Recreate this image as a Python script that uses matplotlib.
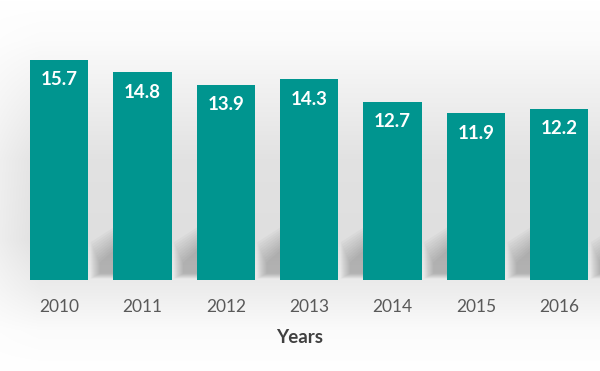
import numpy as np
import matplotlib
matplotlib.use("Agg")
import matplotlib.pyplot as plt
from matplotlib.patches import Polygon

# ------------------------------
# Data
# ------------------------------
years = ["2010", "2011", "2012", "2013", "2014", "2015", "2016"]
values = [15.7, 14.8, 13.9, 14.3, 12.7, 11.9, 12.2]

BAR_COLOR = "#00958f"
BAR_WIDTH = 0.70

plt.rcParams['font.family'] = ['Lato', 'DejaVu Sans']

fig = plt.figure(figsize=(6, 3.71), dpi=100)

# soft grey studio-style backdrop
bg_ax = fig.add_axes([0, 0, 1, 1], zorder=0)
h, w = 371, 600
rows = np.array([0, 40, 100, 160, 240, 290, 330, 371])
levels = np.array([1.0, 0.985, 0.935, 0.885, 0.875, 0.93, 0.985, 1.0])
col = np.interp(np.arange(h), rows, levels)
img = np.repeat(col[:, None], w, axis=1)
# lighter toward the left edge
fade = np.clip(np.arange(w) / 40.0, 0, 1)
img = 1 - (1 - img) * (0.55 + 0.45 * fade)[None, :]
bg_ax.imshow(np.dstack([img, img, img]), aspect='auto', extent=[0, 1, 0, 1])
bg_ax.axis('off')

ax = fig.add_axes([0, 91 / 371, 1, 280 / 371], zorder=1)
ax.patch.set_alpha(0)

x = np.arange(len(years))

# blurred diagonal shadows to the right of each bar
for xi in x:
    xr = xi + BAR_WIDTH / 2
    for k in range(10):
        s = k * 0.02
        poly = Polygon([(xr + 0.03 + s * 0.6, 0.1 + s * 2),
                        (xr + 0.45, 0.1 + s * 2),
                        (xr + 0.45, 4.3 - s * 8),
                        (xr + 0.03 + s * 0.6, 2.7 - s * 8)],
                       closed=True, facecolor='black', edgecolor='none',
                       alpha=0.022, zorder=1)
        ax.add_patch(poly)

ax.bar(x, values, width=BAR_WIDTH, color=BAR_COLOR, zorder=2)

for xi, v in zip(x, values):
    ax.annotate(f"{v:.1f}", xy=(xi, v), xytext=(0, -14.5),
                textcoords='offset points', ha='center', va='center',
                color='white', fontsize=13.5, fontweight='bold', zorder=3)

ax.set_xlim(-0.708, 6.49)
ax.set_ylim(0, 19.94)
ax.set_xticks(x)
ax.set_xticklabels(years, fontsize=12.5, color='#595959')
ax.tick_params(axis='x', length=0, pad=13.5)
ax.set_yticks([])
for sp in ax.spines.values():
    sp.set_visible(False)
ax.set_xlabel("Years", fontsize=13.5, fontweight='bold', color='#404040', labelpad=10)

fig.savefig("out.png", dpi=100)
